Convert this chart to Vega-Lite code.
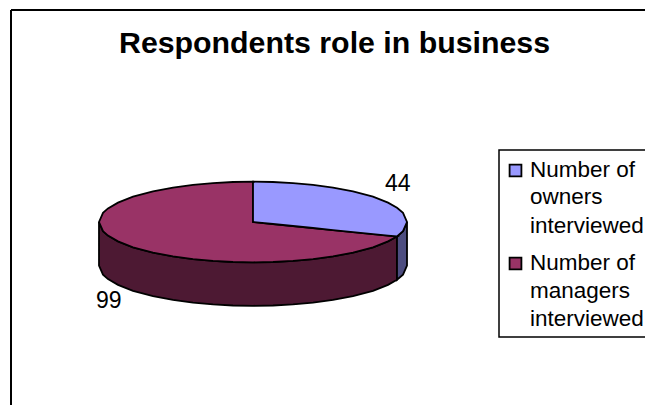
{
"$schema":"https://vega.github.io/schema/vega-lite/v6.json",
"width":645,"height":405,"padding":0,"autosize":{"type":"none"},
"background":"white",
"view":{"stroke":null},
"title":{"text":"Respondents role in business","font":"Liberation Sans","fontSize":30.3,"fontWeight":"bold","color":"black","anchor":"middle","frame":"group","dx":12,"offset":-59},
"datasets":{
"frame":[{"x":11,"x2":11,"y":10,"y2":405},{"x":11,"x2":645,"y":10,"y2":10}],
"legendBox":[{"x":499,"x2":670,"y":150,"y2":337}],
"shape":[
{"part":"managers side","x":99,"y":222,"y2":265.5},{"part":"managers side","x":103,"y":231.1,"y2":274.6},{"part":"managers side","x":108,"y":235.6,"y2":279.1},{"part":"managers side","x":118,"y":241.4,"y2":284.9},{"part":"managers side","x":133,"y":247.3,"y2":290.8},{"part":"managers side","x":153,"y":252.6,"y2":296.1},{"part":"managers side","x":173,"y":256.4,"y2":299.9},{"part":"managers side","x":193,"y":259.1,"y2":302.6},{"part":"managers side","x":213,"y":260.9,"y2":304.4},{"part":"managers side","x":233,"y":262,"y2":305.5},{"part":"managers side","x":253,"y":262.3,"y2":305.8},{"part":"managers side","x":273,"y":262,"y2":305.5},{"part":"managers side","x":293,"y":260.9,"y2":304.4},{"part":"managers side","x":313,"y":259.1,"y2":302.6},{"part":"managers side","x":333,"y":256.4,"y2":299.9},{"part":"managers side","x":353,"y":252.6,"y2":296.1},{"part":"managers side","x":373,"y":247.3,"y2":290.8},{"part":"managers side","x":388,"y":241.4,"y2":284.9},{"part":"managers side","x":397,"y":236.3,"y2":279.8},
{"part":"owners side","x":397,"y":236.3,"y2":279.8},{"part":"owners side","x":403,"y":231.1,"y2":274.6},{"part":"owners side","x":407,"y":222,"y2":265.5},
{"part":"Number of managers interviewed","x":99,"y":222,"y2":222},{"part":"Number of managers interviewed","x":103,"y":212.9,"y2":231.1},{"part":"Number of managers interviewed","x":108,"y":208.4,"y2":235.6},{"part":"Number of managers interviewed","x":118,"y":202.6,"y2":241.4},{"part":"Number of managers interviewed","x":133,"y":196.7,"y2":247.3},{"part":"Number of managers interviewed","x":153,"y":191.4,"y2":252.6},{"part":"Number of managers interviewed","x":173,"y":187.6,"y2":256.4},{"part":"Number of managers interviewed","x":193,"y":184.9,"y2":259.1},{"part":"Number of managers interviewed","x":213,"y":183.1,"y2":260.9},{"part":"Number of managers interviewed","x":233,"y":182,"y2":262},{"part":"Number of managers interviewed","x":253,"y":181.7,"y2":262.3},{"part":"Number of managers interviewed","x":253,"y":222,"y2":262.3},{"part":"Number of managers interviewed","x":273,"y":224,"y2":262},{"part":"Number of managers interviewed","x":293,"y":226,"y2":260.9},{"part":"Number of managers interviewed","x":313,"y":228,"y2":259.1},{"part":"Number of managers interviewed","x":333,"y":230.1,"y2":256.4},{"part":"Number of managers interviewed","x":353,"y":232.1,"y2":252.6},{"part":"Number of managers interviewed","x":373,"y":234.1,"y2":247.3},{"part":"Number of managers interviewed","x":388,"y":235.6,"y2":241.4},{"part":"Number of managers interviewed","x":397,"y":236.5,"y2":236.5},
{"part":"Number of owners interviewed","x":253,"y":181.7,"y2":222},{"part":"Number of owners interviewed","x":273,"y":182,"y2":224},{"part":"Number of owners interviewed","x":293,"y":183.1,"y2":226},{"part":"Number of owners interviewed","x":313,"y":184.9,"y2":228},{"part":"Number of owners interviewed","x":333,"y":187.6,"y2":230.1},{"part":"Number of owners interviewed","x":353,"y":191.4,"y2":232.1},{"part":"Number of owners interviewed","x":373,"y":196.7,"y2":234.1},{"part":"Number of owners interviewed","x":388,"y":202.6,"y2":235.6},{"part":"Number of owners interviewed","x":397,"y":207.7,"y2":236.5},{"part":"Number of owners interviewed","x":403,"y":212.9,"y2":231.1},{"part":"Number of owners interviewed","x":407,"y":222,"y2":222}
],
"values":[{"value":44,"x":385,"y":191},{"value":99,"x":96,"y":308}],
"legendSwatches":[{"part":"Number of owners interviewed","x":515.5,"y":170.5},{"part":"Number of managers interviewed","x":515.5,"y":263.5}],
"legendText":[{"line":"Number of","x":530,"y":177},{"line":"owners","x":530,"y":204},{"line":"interviewed","x":530,"y":233},{"line":"Number of","x":530,"y":270},{"line":"managers","x":530,"y":298},{"line":"interviewed","x":530,"y":326}]
},
"encoding":{
 "x":{"field":"x","type":"quantitative","axis":null,"scale":{"domain":[0,645],"nice":false,"zero":false}},
 "y":{"field":"y","type":"quantitative","axis":null,"stack":null,"scale":{"domain":[0,405],"reverse":true,"nice":false,"zero":false}}
},
"layer":[
{"data":{"name":"frame"},"mark":{"type":"rule","stroke":"black","strokeWidth":2},
 "encoding":{"x2":{"field":"x2"},"y2":{"field":"y2"}}},
{"data":{"name":"legendBox"},"mark":{"type":"rect","fill":"white","stroke":"black","strokeWidth":1.5},
 "encoding":{"x2":{"field":"x2"},"y2":{"field":"y2"}}},
{"data":{"name":"shape"},"mark":{"type":"area","stroke":"black","strokeWidth":1.8,"opacity":1},
 "encoding":{"y2":{"field":"y2"},
 "color":{"field":"part","type":"nominal","legend":null,"scale":{"domain":["Number of owners interviewed","Number of managers interviewed","owners side","managers side"],"range":["#9999FF","#993366","#4D4D80","#4D1933"]}}}},
{"data":{"name":"legendSwatches"},"mark":{"type":"point","shape":"square","filled":true,"size":140,"stroke":"black","strokeWidth":1.8,"opacity":1},
 "encoding":{"color":{"field":"part","type":"nominal","legend":null}}},
{"data":{"name":"values"},"mark":{"type":"text","font":"Liberation Sans","fontSize":23,"align":"left","baseline":"alphabetic","color":"black"},
 "encoding":{"text":{"field":"value","type":"quantitative"}}},
{"data":{"name":"legendText"},"mark":{"type":"text","font":"Liberation Sans","fontSize":22.5,"align":"left","baseline":"alphabetic","color":"black"},
 "encoding":{"text":{"field":"line","type":"nominal"}}}
]
}
